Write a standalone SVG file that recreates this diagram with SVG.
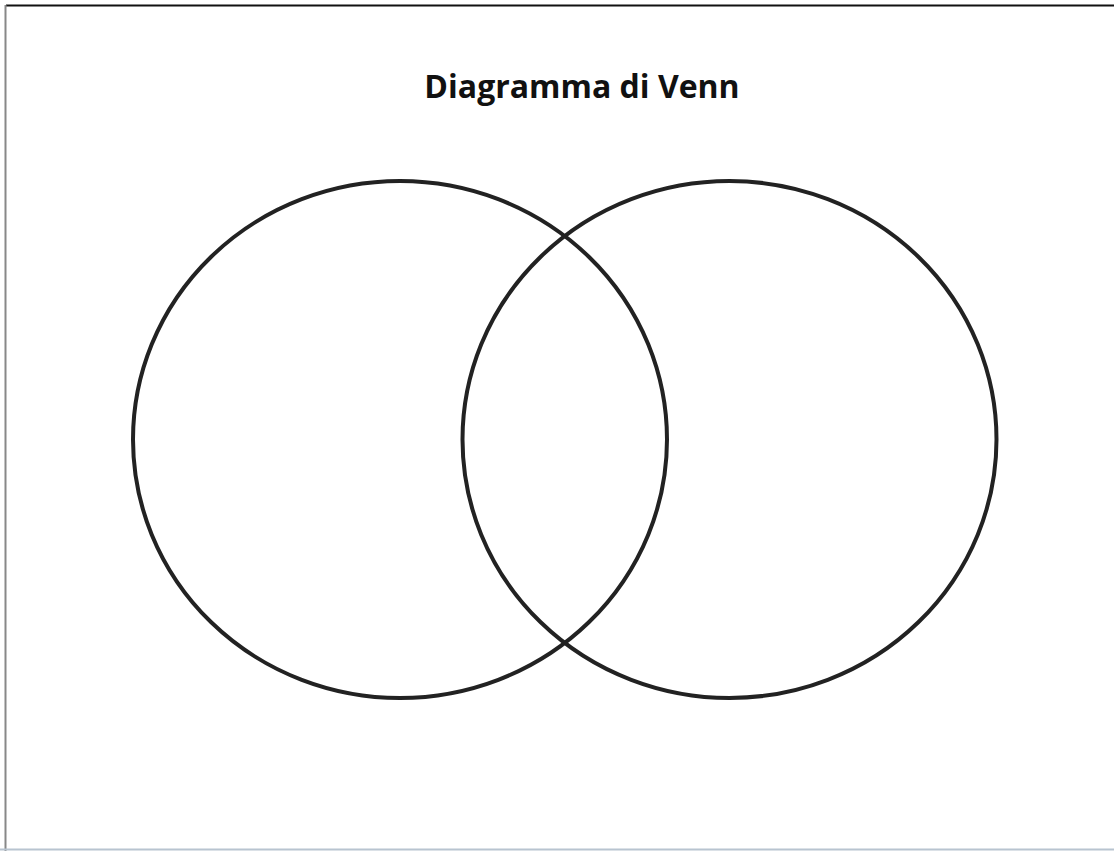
<svg xmlns="http://www.w3.org/2000/svg" width="1114" height="851" viewBox="0 0 1114 851">
<style>
.set{fill:none;stroke:#222;stroke-width:4}
.title{font-family:"Open Sans",sans-serif;font-weight:bold;font-size:32px;fill:#111;text-anchor:middle}
</style>
<rect x="0" y="0" width="1114" height="851" fill="#fff"/>
<g id="frame">
<line x1="6" y1="5.5" x2="1114" y2="5.5" stroke="#111" stroke-width="2"/>
<line x1="5.5" y1="5" x2="5.5" y2="851" stroke="#888" stroke-width="2"/>
<line x1="0" y1="849.5" x2="1114" y2="849.5" stroke="#b8c4d0" stroke-width="2"/>
</g>
<g id="title"><text class="title" x="582" y="98">Diagramma di Venn</text></g>
<g id="setA"><ellipse class="set" cx="400" cy="439.5" rx="267" ry="258.5"/></g>
<g id="setB"><ellipse class="set" cx="729.5" cy="439.5" rx="267" ry="258.5"/></g>
<g id="connectors"></g>
</svg>
